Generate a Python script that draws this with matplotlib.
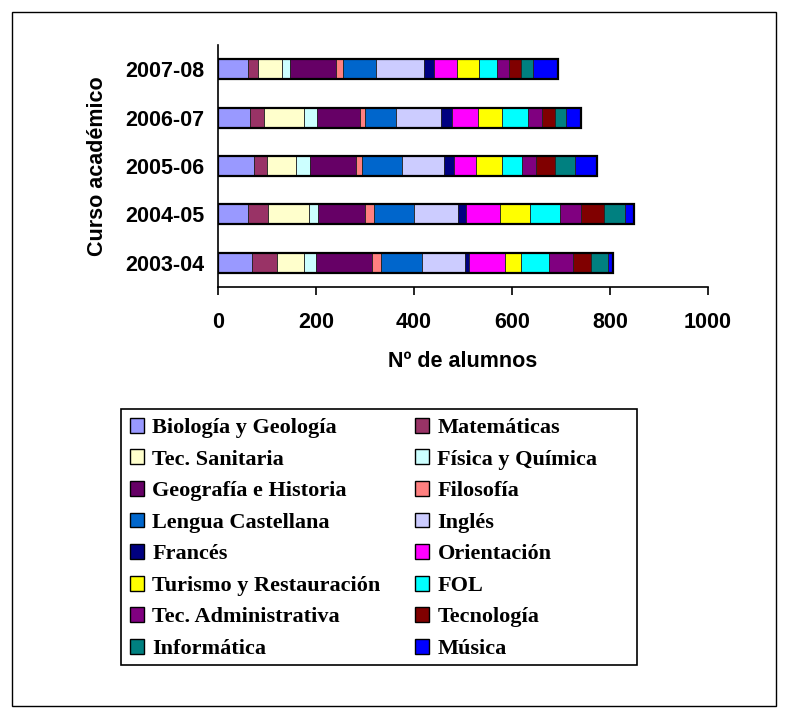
import matplotlib
matplotlib.use("Agg")
import matplotlib.pyplot as plt
from matplotlib.patches import Rectangle, Patch
import numpy as np

years = ["2003-04", "2004-05", "2005-06", "2006-07", "2007-08"]
subjects = ["Biología y Geología", "Matemáticas", "Tec. Sanitaria", "Física y Química",
            "Geografía e Historia", "Filosofía", "Lengua Castellana", "Inglés",
            "Francés", "Orientación", "Turismo y Restauración", "FOL",
            "Tec. Administrativa", "Tecnología", "Informática", "Música"]
colors = ["#9999FF", "#993366", "#FFFFCC", "#CCFFFF", "#660066", "#FF8080", "#0066CC",
          "#CCCCFF", "#000080", "#FF00FF", "#FFFF00", "#00FFFF", "#800080", "#800000",
          "#008080", "#0000FF"]

# values per subject, order of years: 2003-04 ... 2007-08
biologia   = [69, 61, 73, 65, 61]
matematicas = [52, 42, 28, 29, 20]
tec_sanitaria = [54, 82, 58, 82, 49]
fisica     = [25, 19, 29, 27, 16]
geografia  = [115, 95, 93, 86, 94]
filosofia  = [17, 19, 12, 11, 16]
lengua     = [84, 82, 82, 64, 66]
ingles     = [89, 90, 87, 92, 98]
frances    = [7, 17, 19, 22, 21]
orientacion = [73, 68, 46, 53, 46]
turismo    = [33, 61, 53, 49, 45]
fol        = [57, 61, 41, 53, 37]
tec_admin  = [50, 44, 28, 29, 24]
tecnologia = [36, 46, 38, 25, 25]
informatica = [34, 44, 41, 24, 24]
musica     = [12, 18, 46, 30, 51]

series = [biologia, matematicas, tec_sanitaria, fisica, geografia, filosofia, lengua,
          ingles, frances, orientacion, turismo, fol, tec_admin, tecnologia,
          informatica, musica]

W, H = 788, 718
fig = plt.figure(figsize=(W/100, H/100), dpi=100)
ax = fig.add_axes([218/W, 1-287/H, 490/W, (287-45)/H])

sans = "Liberation Sans"
serif = "Liberation Serif"
fs = 15.5

y = np.arange(len(years))
left = np.zeros(len(years))
handles = []
for name, vals, c in zip(subjects, series, colors):
    v = np.array(vals, dtype=float)
    ax.barh(y, v, left=left, height=0.41, color=c, edgecolor="#222222", linewidth=0.6)
    left += v
    handles.append(Patch(facecolor=c, edgecolor="black", linewidth=1.0, label=name))
ax.barh(y, left, height=0.41, fill=False, edgecolor="black", linewidth=1.6)

ax.set_xlim(0, 1000)
ax.set_ylim(-0.5, 4.5)
ax.set_xticks([0, 200, 400, 600, 800, 1000])
ax.set_yticks(y)
ax.set_yticklabels(years)
for s in ["top", "right"]:
    ax.spines[s].set_visible(False)
ax.spines["left"].set_linewidth(1.2)
ax.spines["bottom"].set_linewidth(1.2)
ax.tick_params(axis="x", length=6, width=1.2, direction="out", pad=12)
ax.tick_params(axis="y", length=0, pad=10)
for lab in ax.get_xticklabels() + ax.get_yticklabels():
    lab.set_fontfamily(sans)
    lab.set_fontweight("bold")
    lab.set_fontsize(fs)
ax.set_xlabel("Nº de alumnos", fontfamily=sans, fontweight="bold", fontsize=fs, labelpad=13)
ax.set_ylabel("Curso académico", fontfamily=sans, fontweight="bold", fontsize=fs, labelpad=12)

order = handles[0::2] + handles[1::2]
lfs = 16
leg = fig.legend(handles=order, ncol=2, loc="upper left",
                 bbox_to_anchor=(121/W, 1-409/H),
                 bbox_transform=fig.transFigure, borderaxespad=0,
                 prop={"family": serif, "weight": "bold", "size": lfs},
                 handlelength=0.65, handleheight=0.65, handletextpad=0.36,
                 labelspacing=0.51, columnspacing=1.55, frameon=False,
                 borderpad=0.4)

fig.patches.append(Rectangle((121/W, 1-665/H), (637-121)/W, (665-409)/H,
                             transform=fig.transFigure, fill=False,
                             edgecolor="black", linewidth=1.2))
fig.patches.append(Rectangle((12/W, 12/H), (776-12)/W, (706-12)/H,
                             transform=fig.transFigure, fill=False,
                             edgecolor="black", linewidth=1.0))

fig.savefig("out.png", dpi=100)
